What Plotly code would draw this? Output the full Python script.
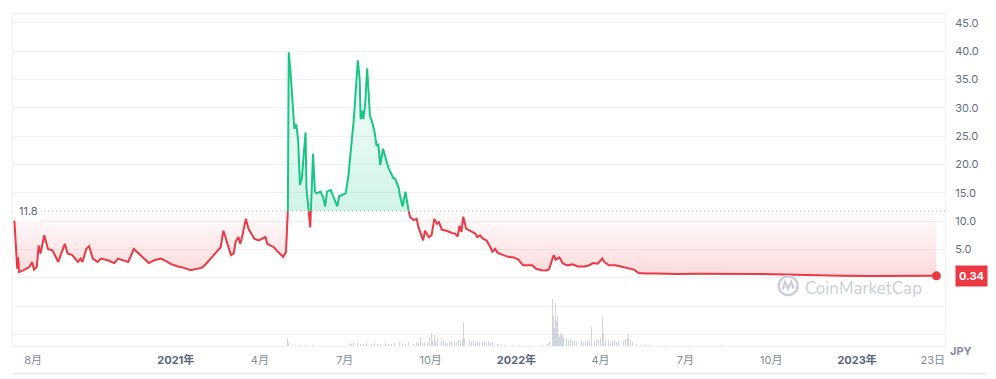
import numpy as np
import pandas as pd
import plotly.graph_objects as go

# ---------------- data ----------------
price_dates = [
    "2020-07-12", "2020-07-15", "2020-07-16", "2020-07-17", "2020-07-22", "2020-07-28", "2020-07-31",
    "2020-08-02", "2020-08-05", "2020-08-07", "2020-08-09", "2020-08-13", "2020-08-17", "2020-08-22",
    "2020-08-28", "2020-09-04", "2020-09-07", "2020-09-12", "2020-09-18", "2020-09-21", "2020-09-23",
    "2020-09-27", "2020-09-30", "2020-10-04", "2020-10-09", "2020-10-13", "2020-10-20", "2020-10-27",
    "2020-10-31", "2020-11-06", "2020-11-11", "2020-11-17", "2020-11-21", "2020-11-28", "2020-12-03",
    "2020-12-09", "2020-12-16", "2020-12-21", "2020-12-27", "2021-01-03", "2021-01-09", "2021-01-17",
    "2021-01-24", "2021-01-29", "2021-02-02", "2021-02-07", "2021-02-12", "2021-02-16", "2021-02-18",
    "2021-02-21", "2021-02-25", "2021-03-01", "2021-03-04", "2021-03-06", "2021-03-09", "2021-03-11",
    "2021-03-13", "2021-03-17", "2021-03-20", "2021-03-26", "2021-03-31", "2021-04-07", "2021-04-09",
    "2021-04-16", "2021-04-21", "2021-04-26", "2021-04-29", "2021-04-30", "2021-05-01", "2021-05-02",
    "2021-05-04", "2021-05-06", "2021-05-08", "2021-05-10", "2021-05-12", "2021-05-14", "2021-05-16",
    "2021-05-20", "2021-05-21", "2021-05-23", "2021-05-25", "2021-05-28", "2021-05-30", "2021-06-01",
    "2021-06-05", "2021-06-08", "2021-06-10", "2021-06-12", "2021-06-16", "2021-06-19", "2021-06-23",
    "2021-06-25", "2021-06-28", "2021-07-02", "2021-07-05", "2021-07-09", "2021-07-11", "2021-07-15",
    "2021-07-17", "2021-07-18", "2021-07-20", "2021-07-21", "2021-07-23", "2021-07-25", "2021-07-27",
    "2021-07-28", "2021-07-30", "2021-08-02", "2021-08-04", "2021-08-06", "2021-08-08", "2021-08-11",
    "2021-08-14", "2021-08-17", "2021-08-19", "2021-08-22", "2021-08-24", "2021-08-28", "2021-08-29",
    "2021-09-01", "2021-09-04", "2021-09-06", "2021-09-08", "2021-09-09", "2021-09-13", "2021-09-16",
    "2021-09-18", "2021-09-23", "2021-09-25", "2021-09-29", "2021-10-02", "2021-10-05", "2021-10-08",
    "2021-10-10", "2021-10-13", "2021-10-18", "2021-10-24", "2021-10-27", "2021-10-30", "2021-11-01",
    "2021-11-03", "2021-11-05", "2021-11-08", "2021-11-12", "2021-11-18", "2021-11-20", "2021-11-23",
    "2021-11-26", "2021-11-30", "2021-12-04", "2021-12-06", "2021-12-09", "2021-12-12", "2021-12-18",
    "2021-12-23", "2021-12-29", "2022-01-03", "2022-01-08", "2022-01-13", "2022-01-18", "2022-01-22",
    "2022-01-28", "2022-02-02", "2022-02-05", "2022-02-08", "2022-02-10", "2022-02-12", "2022-02-16",
    "2022-02-20", "2022-02-25", "2022-03-02", "2022-03-08", "2022-03-15", "2022-03-20", "2022-03-24",
    "2022-03-29", "2022-04-03", "2022-04-05", "2022-04-10", "2022-04-17", "2022-04-25", "2022-05-02",
    "2022-05-07", "2022-05-12", "2022-05-20", "2022-05-31", "2022-06-10", "2022-06-21", "2022-07-15",
    "2022-08-15", "2022-09-15", "2022-10-15", "2022-11-01", "2022-11-20", "2022-12-15", "2023-01-15",
    "2023-02-01", "2023-02-20", "2023-03-10", "2023-03-27",
]
price_values = [
    10.1, 1.6, 3.6, 1.0, 1.35, 1.9, 2.8,
    1.45, 1.9, 5.7, 4.3, 7.5, 5.1, 4.8,
    2.8, 6.0, 4.3, 4.0, 2.8, 3.4, 2.8,
    5.1, 5.6, 3.4, 2.8, 3.4, 3.1, 2.6,
    3.4, 3.0, 2.8, 5.1, 4.5, 3.5, 2.6,
    3.1, 3.4, 3.0, 2.4, 2.0, 1.8, 1.35,
    1.6, 1.8, 2.4, 3.4, 4.3, 5.1, 5.4,
    8.3, 6.3, 4.0, 4.3, 6.3, 7.2, 6.0,
    7.2, 10.4, 8.6, 6.9, 6.6, 7.2, 6.0,
    5.4, 4.5, 3.7, 4.5, 9.5, 11.5, 39.8,
    36.0, 31.5, 26.3, 27.1, 24.5, 16.4, 17.6,
    25.7, 15.8, 12.3, 8.9, 21.9, 15.2, 14.9,
    15.2, 14.1, 12.6, 15.2, 15.5, 14.1, 12.6,
    14.4, 14.6, 14.9, 18.1, 24.5, 28.6, 38.4,
    35.0, 28.0, 29.5, 28.0, 30.9, 37.0, 30.9,
    28.6, 27.7, 25.7, 23.4, 23.5, 19.9, 22.8,
    21.0, 19.3, 18.7, 17.6, 17.5, 15.8, 14.6,
    12.6, 15.2, 13.5, 11.2, 10.7, 10.2, 10.4,
    8.9, 6.6, 8.3, 7.2, 7.5, 10.4, 9.5,
    9.8, 8.5, 8.3, 7.9, 7.8, 7.3, 9.2,
    8.1, 10.8, 8.7, 8.3, 7.8, 7.2, 7.5,
    6.9, 6.6, 5.4, 4.6, 5.1, 4.4, 4.0,
    3.7, 3.6, 3.2, 2.2, 2.2, 2.2, 1.6,
    1.35, 1.3, 1.5, 3.1, 4.0, 3.2, 3.6,
    2.5, 2.2, 2.4, 2.0, 2.0, 2.2, 2.6,
    2.5, 3.4, 2.8, 2.2, 2.2, 1.9, 1.6,
    1.45, 0.85, 0.75, 0.75, 0.65, 0.65, 0.7,
    0.72, 0.68, 0.6, 0.5, 0.4, 0.35, 0.3,
    0.32, 0.36, 0.38, 0.34,
]

vol_dates = [
    "2021-05-01", "2021-05-02", "2021-05-08", "2021-05-15", "2021-05-21", "2021-05-27",
    "2021-07-06", "2021-07-08", "2021-07-10", "2021-07-13", "2021-07-15", "2021-07-18", "2021-07-21",
    "2021-07-24", "2021-07-27", "2021-07-30", "2021-08-02", "2021-08-05", "2021-08-08", "2021-08-11",
    "2021-08-14", "2021-08-17", "2021-08-20", "2021-08-23", "2021-08-26", "2021-08-29", "2021-09-01",
    "2021-09-04", "2021-09-07", "2021-09-10", "2021-09-13", "2021-09-16", "2021-09-18", "2021-09-20",
    "2021-09-22", "2021-09-24", "2021-09-26", "2021-09-28", "2021-09-30", "2021-10-02", "2021-10-03",
    "2021-10-05", "2021-10-06", "2021-10-08", "2021-10-10", "2021-10-11", "2021-10-13", "2021-10-15",
    "2021-10-17", "2021-10-19", "2021-10-21", "2021-10-23", "2021-10-25", "2021-10-27", "2021-10-29",
    "2021-10-31", "2021-11-02", "2021-11-04", "2021-11-05", "2021-11-06", "2021-11-08", "2021-11-10",
    "2021-11-12", "2021-11-14", "2021-11-16", "2021-11-18", "2021-11-20", "2021-11-22", "2021-11-24",
    "2021-11-26", "2021-11-28", "2021-11-30", "2021-12-02", "2021-12-04", "2021-12-06", "2021-12-08",
    "2021-12-10", "2021-12-12", "2021-12-15", "2021-12-19", "2021-12-23", "2021-12-28", "2022-01-03",
    "2022-01-09", "2022-01-15", "2022-01-22", "2022-01-28", "2022-02-03", "2022-02-05", "2022-02-06",
    "2022-02-07", "2022-02-08", "2022-02-09", "2022-02-10", "2022-02-11", "2022-02-12", "2022-02-13",
    "2022-02-14", "2022-02-15", "2022-02-16", "2022-02-17", "2022-02-18", "2022-02-19", "2022-02-20",
    "2022-02-22", "2022-02-23", "2022-02-24", "2022-02-26", "2022-02-28", "2022-03-02", "2022-03-04",
    "2022-03-06", "2022-03-08", "2022-03-10", "2022-03-12", "2022-03-14", "2022-03-16", "2022-03-18",
    "2022-03-20", "2022-03-22", "2022-03-24", "2022-03-26", "2022-03-28", "2022-03-30", "2022-04-01",
    "2022-04-03", "2022-04-04", "2022-04-06", "2022-04-08", "2022-04-10", "2022-04-12", "2022-04-14",
    "2022-04-16", "2022-04-18", "2022-04-20", "2022-04-22", "2022-04-24", "2022-04-26", "2022-04-28",
    "2022-04-30", "2022-05-01", "2022-05-03", "2022-05-05", "2022-05-07", "2022-05-10", "2022-05-14",
    "2022-05-19", "2022-05-25", "2022-06-10", "2022-07-05", "2022-08-10", "2022-10-20", "2022-12-01",
]
vol_values = [
    8, 3, 1, 1, 1.5, 1,
    3, 2, 3, 2, 3, 2, 2,
    3, 2, 2, 3, 2, 2, 2,
    3, 2, 2, 3, 2, 4, 3,
    2, 4, 3, 2, 4, 3, 8,
    3, 4, 5, 4, 9, 13, 6,
    11, 5, 8, 10, 6, 5, 6,
    4, 3, 5, 4, 7, 5, 4,
    6, 5, 7, 24, 8, 6, 5,
    7, 5, 6, 4, 5, 4, 6,
    4, 5, 4, 5, 3, 4, 6,
    3, 2, 1.5, 1, 1, 1, 1.5,
    1, 1, 1, 1.5, 2, 4, 8,
    20, 32, 48, 30, 18, 44, 25,
    30, 12, 9, 13, 10, 12, 8,
    20, 9, 8, 6, 7, 5, 6,
    4, 7, 5, 6, 4, 5, 6,
    5, 19, 6, 5, 7, 6, 8,
    29, 13, 7, 5, 6, 4, 5,
    6, 4, 5, 4, 6, 5, 7,
    8, 12, 6, 4, 3, 2, 1.5,
    1, 1, 0.8, 0.8, 0.6, 0.6, 0.5,
]

baseline_value = 11.8
last_price = 0.34
y_tick_vals = [-10, -5, 0, 5, 10, 15, 20, 25, 30, 35, 40, 45]
y_tick_text = ["", "", "", "5.0", "10.0", "15.0", "20.0", "25.0", "30.0", "35.0", "40.0", "45.0"]
x_tick_vals = ["2020-08-01", "2021-01-01", "2021-04-01", "2021-07-01", "2021-10-01", "2022-01-01",
               "2022-04-01", "2022-07-01", "2022-10-01", "2023-01-01", "2023-03-23"]
x_tick_labels = ["8月", "2021年", "4月", "7月", "10月", "2022年", "4月", "7月", "10月", "2023年", "23日"]
year_labels = {"2021年", "2022年", "2023年"}

# ---------------- styling ----------------
RED = "#ea3943"
GREEN = "#16c784"
GRID = "#eff2f5"
FONT = "Inter, 'Noto Sans CJK JP', sans-serif"

# split line at baseline crossings (geometry only)
ts = pd.to_datetime(price_dates).values.astype("datetime64[ms]").astype(np.int64)
vs = np.array(price_values, dtype=float)
xs, ys = [int(ts[0])], [vs[0]]
for i in range(1, len(vs)):
    a, b = vs[i - 1], vs[i]
    if (a - baseline_value) * (b - baseline_value) < 0:
        f = (baseline_value - a) / (b - a)
        xs.append(int(round(ts[i - 1] + f * (ts[i] - ts[i - 1]))))
        ys.append(baseline_value)
    xs.append(int(ts[i]))
    ys.append(b)
xd = pd.to_datetime(np.array(xs, dtype=np.int64), unit="ms")
ys = np.array(ys)
red_line = [y if y <= baseline_value else None for y in ys]
green_line = [y if y >= baseline_value else None for y in ys]
red_fill = np.minimum(ys, baseline_value)
green_fill = np.maximum(ys, baseline_value)
base = [baseline_value] * len(ys)

fig = go.Figure()
# volume bars
fig.add_trace(go.Bar(
    x=pd.to_datetime(vol_dates), y=vol_values, yaxis="y2",
    marker=dict(color="rgba(170,178,196,0.55)", line=dict(width=0)),
    width=86400000 * 0.9, hoverinfo="skip", showlegend=False,
))
# red fill
fig.add_trace(go.Scatter(x=xd, y=base, mode="lines", line=dict(width=0),
                         hoverinfo="skip", showlegend=False))
fig.add_trace(go.Scatter(
    x=xd, y=red_fill, mode="lines", line=dict(width=0), fill="tonexty",
    fillgradient=dict(type="vertical", start=0, stop=baseline_value,
                      colorscale=[[0, "rgba(234,57,67,0.20)"], [1, "rgba(234,57,67,0.02)"]]),
    hoverinfo="skip", showlegend=False,
))
# green fill
fig.add_trace(go.Scatter(x=xd, y=base, mode="lines", line=dict(width=0),
                         hoverinfo="skip", showlegend=False))
fig.add_trace(go.Scatter(
    x=xd, y=green_fill, mode="lines", line=dict(width=0), fill="tonexty",
    fillgradient=dict(type="vertical", start=baseline_value, stop=40,
                      colorscale=[[0, "rgba(22,199,132,0.20)"], [1, "rgba(22,199,132,0.02)"]]),
    hoverinfo="skip", showlegend=False,
))
# lines
fig.add_trace(go.Scatter(x=xd, y=red_line, mode="lines", line=dict(color=RED, width=2),
                         showlegend=False))
fig.add_trace(go.Scatter(x=xd, y=green_line, mode="lines", line=dict(color=GREEN, width=2),
                         showlegend=False))
fig.add_trace(go.Scatter(x=[xd[-1]], y=[ys[-1]], mode="markers",
                         marker=dict(color=RED, size=9), showlegend=False))

W, H = 996, 379
ML, MR, MT, MB = 12, 51, 14, 29
PW, PH = W - ML - MR, H - MT - MB


def px(x):
    return (x - ML) / PW


def py(y):
    return (H - MB - y) / PH


tick_text = []
for lab in x_tick_labels:
    if lab in year_labels:
        tick_text.append(f"<span style='color:#58667e'><b>{lab}</b></span>")
    else:
        tick_text.append(lab)

fig.update_layout(
    width=W, height=H,
    margin=dict(l=ML, r=MR, t=MT, b=MB, pad=0),
    paper_bgcolor="white", plot_bgcolor="white",
    font=dict(family=FONT, size=11, color="#808a9d"),
    bargap=0,
    xaxis=dict(
        type="date", range=["2020-07-10 12:00", "2023-04-05 05:00"],
        tickvals=x_tick_vals, ticktext=tick_text,
        showgrid=False, zeroline=False,
        showline=True, linecolor=GRID, linewidth=1, mirror=True,
        ticks="outside", ticklen=4, tickcolor="rgba(0,0,0,0)",
        tickfont=dict(family=FONT, size=11, color="#808a9d"),
    ),
    yaxis=dict(
        range=[-12.04, 46.57], side="right",
        tickvals=y_tick_vals, ticktext=y_tick_text,
        showgrid=True, gridcolor=GRID, gridwidth=1, zeroline=False,
        showline=True, linecolor=GRID, linewidth=1, mirror=True,
        ticks="outside", ticklen=7, tickcolor="rgba(0,0,0,0)",
        tickfont=dict(family=FONT, size=11, color="#616e85"),
    ),
    yaxis2=dict(range=[0, PH], overlaying="y", visible=False),
    showlegend=False,
)

# baseline dotted line
fig.add_shape(type="line", xref="paper", yref="y", x0=px(43), x1=1, y0=baseline_value, y1=baseline_value,
              line=dict(color="#a6b0c3", width=1, dash="1px,3px"))
# bottom container line
fig.add_shape(type="line", xref="paper", yref="paper", x0=0, x1=px(987), y0=py(378), y1=py(378),
              line=dict(color="#e3eaf7", width=1.5))

# baseline label
fig.add_annotation(xref="paper", yref="y", x=px(14), y=baseline_value, xanchor="left", yanchor="middle",
                   text=f"{baseline_value}", showarrow=False, bgcolor="white", borderpad=3,
                   font=dict(family=FONT, size=11, color="#58667e"))
# price label
fig.add_annotation(xref="paper", yref="y", x=1, xshift=10, y=last_price, xanchor="left", yanchor="middle",
                   text=f"<b>{last_price}</b>", showarrow=False, bgcolor=RED, borderpad=3,
                   font=dict(family=FONT, size=11, color="white"))
# currency
fig.add_annotation(xref="paper", yref="paper", x=1, xshift=3, y=py(355), xanchor="left", yanchor="middle",
                   text="<b>JPY</b>", showarrow=False,
                   font=dict(family=FONT, size=11, color="#808a9d"))
# watermark
fig.add_annotation(xref="paper", yref="paper", x=px(863), y=py(292), xanchor="center", yanchor="middle",
                   text="CoinMarketCap", showarrow=False,
                   font=dict(family="Nunito, 'Noto Sans', sans-serif", size=17, color="#c9ced8"))
fig.add_shape(type="circle", xref="paper", yref="paper",
              x0=px(778.5), x1=px(797.5), y0=py(298.5), y1=py(279.5),
              line=dict(color="#c9ced8", width=2.5))
fig.add_shape(type="path", xref="paper", yref="paper",
              path=(f"M {px(782.5)} {py(293)} L {px(785)} {py(285)} L {px(788)} {py(292)} "
                    f"L {px(791)} {py(285)} L {px(793.5)} {py(292)}"),
              line=dict(color="#c9ced8", width=2.2))

fig.write_html("out.html", config={"displayModeBar": False},
               post_script="document.body.style.margin='0';")
